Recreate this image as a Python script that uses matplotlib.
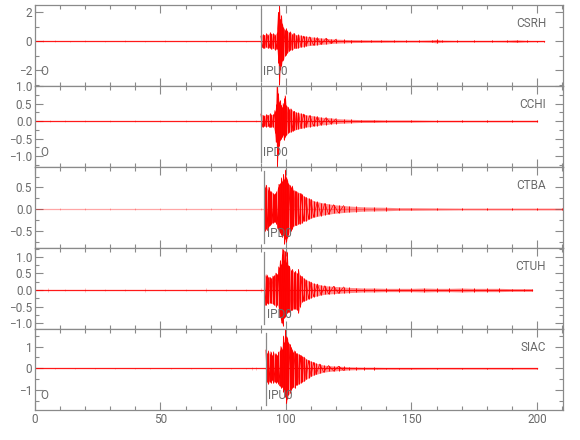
import matplotlib
matplotlib.use("Agg")
import matplotlib.pyplot as plt
from matplotlib import font_manager
from matplotlib.ticker import MultipleLocator

_installed = {f.name for f in font_manager.fontManager.ttflist}
_prefs = ['Liberation Sans Narrow', 'DejaVu Sans Condensed', 'Roboto', 'DejaVu Sans']
_family = [n for n in _prefs if n in _installed] + ['DejaVu Sans']
plt.rcParams['font.family'] = _family

# ---------------- data ----------------
stations = ["CSRH", "CCHI", "CTBA", "CTUH", "SIAC"]
onsets = [90.0, 90.0, 91.4, 91.4, 92.0]
pick_labels = ["IPU0", "IPD0", "IPD0", "IPD0", "IPU0"]
show_O = [True, True, False, False, True]
trace_end = [203, 200, 210.4, 198, 200]

# CSRH
csrh_pre_t = [0, 3, 8, 14, 20, 28, 36, 44, 52, 60, 68, 76, 84, 89.5]
csrh_pre_a = [0.05, 0.06, 0.05, 0.04, 0.05, 0.04, 0.05, 0.04, 0.05, 0.04, 0.04, 0.05, 0.04, 0.04]
csrh_t = [90, 90.7, 91.4, 92.1, 92.8, 93.5, 94.2, 94.9, 95.6, 96.3,
          97.0, 97.4, 97.8, 98.2, 98.6, 99.0, 99.5, 100.0, 100.6, 101.2,
          101.8, 102.5, 103.2, 104, 105, 106, 107, 108, 109.5, 111,
          112.5, 114, 116, 118, 120, 123, 126, 130, 134, 138,
          143, 148, 153, 158, 160, 162, 168, 175, 182, 188,
          192, 196, 200, 203]
csrh_hi = [0.35, 0.5, 0.4, 0.55, 0.45, 0.6, 0.5, 0.55, 0.45, 0.6,
           2.0, 2.5, 1.5, 1.8, 1.2, 1.0, 0.8, 0.9, 0.7, 0.6,
           0.65, 0.5, 0.55, 0.45, 0.45, 0.4, 0.35, 0.35, 0.3, 0.28,
           0.25, 0.22, 0.2, 0.16, 0.14, 0.12, 0.1, 0.09, 0.08, 0.08,
           0.07, 0.06, 0.06, 0.08, 0.12, 0.07, 0.05, 0.05, 0.05, 0.06,
           0.09, 0.05, 0.04, 0.03]
csrh_lo = [-0.3, -0.45, -0.5, -0.4, -0.5, -0.45, -0.55, -0.5, -0.6, -0.55,
           -1.5, -3.0, -2.0, -1.7, -1.4, -1.3, -1.0, -0.95, -0.8, -0.7,
           -0.6, -0.6, -0.5, -0.5, -0.45, -0.4, -0.38, -0.33, -0.3, -0.28,
           -0.25, -0.22, -0.2, -0.16, -0.14, -0.12, -0.1, -0.09, -0.08, -0.08,
           -0.07, -0.06, -0.06, -0.08, -0.12, -0.07, -0.05, -0.05, -0.05, -0.06,
           -0.09, -0.05, -0.04, -0.03]

# CCHI
cchi_pre_t = [0, 6, 12, 20, 30, 40, 50, 60, 70, 80, 88]
cchi_pre_a = [0.02, 0.02, 0.03, 0.02, 0.02, 0.02, 0.02, 0.02, 0.02, 0.02, 0.02]
cchi_t = [90, 90.7, 91.4, 92.1, 92.8, 93.5, 94.2, 94.9,
          95.6, 96.1, 96.5, 96.9, 97.3, 97.7, 98.1, 98.5, 98.9, 99.3, 99.7,
          100.2, 100.8, 101.4, 102, 102.7, 103.4, 104.2, 105,
          106, 107, 108, 109.5, 111, 112.5, 114, 116, 118, 120,
          123, 126, 130, 135, 140,
          150, 160, 170, 180, 190, 200]
cchi_hi = [0.2, 0.18, 0.15, 0.2, 0.17, 0.22, 0.18, 0.2,
           0.3, 0.5, 1.1, 0.8, 0.55, 0.6, 0.45, 0.4, 0.5, 0.65, 0.72,
           0.45, 0.4, 0.35, 0.35, 0.3, 0.28, 0.25, 0.24,
           0.22, 0.2, 0.18, 0.16, 0.15, 0.13, 0.11, 0.1, 0.09, 0.07,
           0.06, 0.05, 0.04, 0.04, 0.03,
           0.03, 0.02, 0.02, 0.02, 0.02, 0.02]
cchi_lo = [-0.15, -0.17, -0.14, -0.16, -0.15, -0.18, -0.16, -0.17,
           -0.34, -0.6, -1.3, -0.96, -0.7, -0.55, -0.5, -0.45, -0.4, -0.53, -0.45,
           -0.4, -0.35, -0.32, -0.3, -0.28, -0.26, -0.24, -0.22,
           -0.21, -0.19, -0.17, -0.16, -0.14, -0.13, -0.11, -0.1, -0.08, -0.07,
           -0.06, -0.05, -0.04, -0.04, -0.03,
           -0.03, -0.02, -0.02, -0.02, -0.02, -0.02]

# CTBA
ctba_pre_t = [0, 10, 20, 30, 40, 50, 60, 70, 80, 90, 91.2]
ctba_pre_a = [0.015, 0.015, 0.015, 0.015, 0.015, 0.015, 0.015, 0.015, 0.015, 0.015, 0.015]
ctba_t = [91.4, 91.8, 92.2, 92.7, 93.2, 93.7, 94.2, 94.7, 95.2, 95.7,
          96.2, 96.7, 97.2, 97.7, 98.2, 98.6, 99.0, 99.4, 99.8, 100.2,
          100.6, 101.0, 101.5, 102.0, 102.5, 103.0, 103.6, 104.2, 104.8, 105.5,
          106.2, 107, 108, 109, 110, 111, 112.5, 114, 115.5, 117,
          119, 121, 123, 125, 128, 131, 135, 140, 145, 150,
          160, 170, 180, 190, 200, 210]
ctba_hi = [0.6, 0.5, 0.55, 0.45, 0.5, 0.42, 0.4, 0.38, 0.34, 0.36,
           0.4, 0.5, 0.57, 0.6, 0.72, 0.65, 0.8, 0.7, 0.9, 0.75,
           0.68, 0.6, 0.55, 0.5, 0.53, 0.45, 0.42, 0.42, 0.38, 0.38,
           0.35, 0.3, 0.27, 0.25, 0.22, 0.19, 0.17, 0.15, 0.13, 0.12,
           0.1, 0.09, 0.08, 0.07, 0.06, 0.05, 0.045, 0.04, 0.03, 0.03,
           0.025, 0.02, 0.02, 0.02, 0.02, 0.02]
ctba_lo = [-0.4, -0.5, -0.45, -0.5, -0.4, -0.38, -0.34, -0.32, -0.3, -0.3,
           -0.35, -0.45, -0.5, -0.55, -0.6, -0.65, -0.6, -0.8, -0.7, -0.75,
           -0.68, -0.6, -0.5, -0.5, -0.45, -0.4, -0.38, -0.38, -0.35, -0.34,
           -0.32, -0.28, -0.27, -0.24, -0.21, -0.19, -0.17, -0.15, -0.13, -0.12,
           -0.1, -0.09, -0.08, -0.07, -0.06, -0.05, -0.045, -0.04, -0.03, -0.03,
           -0.025, -0.02, -0.02, -0.02, -0.02, -0.02]

# CTUH
ctuh_pre_t = [0, 5, 12, 20, 28, 36, 44, 52, 60, 68, 76, 84, 90, 91.2]
ctuh_pre_a = [0.04, 0.05, 0.04, 0.05, 0.04, 0.04, 0.05, 0.04, 0.04, 0.05, 0.04, 0.04, 0.05, 0.04]
ctuh_t = [91.4, 91.9, 92.4, 93.0, 93.6, 94.2, 94.8, 95.4, 96.0, 96.6,
          97.1, 97.5, 97.9, 98.3, 98.7, 99.1, 99.5, 99.9, 100.4, 100.9,
          101.4, 102, 102.6, 103.2, 103.8, 104.4, 105, 105.6, 106.3, 107,
          108, 109, 110, 111, 112.5, 114, 115.5, 117, 119, 121,
          123, 125, 128, 131, 135, 140, 145, 150, 155, 160,
          165, 170, 175, 180, 185, 190, 195, 198]
ctuh_hi = [0.5, 0.42, 0.46, 0.4, 0.38, 0.36, 0.42, 0.45, 0.51, 0.48,
           0.7, 0.92, 0.8, 1.1, 1.23, 0.9, 1.18, 0.85, 1.15, 0.75,
           0.72, 0.6, 0.62, 0.55, 0.56, 0.5, 0.62, 0.45, 0.41, 0.36,
           0.31, 0.28, 0.24, 0.2, 0.18, 0.15, 0.13, 0.12, 0.11, 0.1,
           0.09, 0.08, 0.07, 0.06, 0.06, 0.05, 0.05, 0.05, 0.06, 0.05,
           0.05, 0.06, 0.05, 0.05, 0.05, 0.04, 0.04, 0.04]
ctuh_lo = [-0.45, -0.46, -0.4, -0.41, -0.38, -0.4, -0.42, -0.45, -0.51, -0.45,
           -0.6, -0.82, -0.9, -1.0, -1.08, -0.85, -0.82, -0.75, -0.7, -0.67,
           -0.67, -0.62, -0.6, -0.56, -0.56, -0.6, -0.7, -0.5, -0.36, -0.34,
           -0.31, -0.27, -0.23, -0.2, -0.18, -0.15, -0.13, -0.12, -0.11, -0.1,
           -0.09, -0.08, -0.07, -0.06, -0.06, -0.05, -0.05, -0.05, -0.06, -0.05,
           -0.05, -0.06, -0.05, -0.05, -0.05, -0.04, -0.04, -0.04]

# SIAC
siac_pre_t = [0, 8, 16, 24, 32, 40, 46, 54, 62, 70, 78, 84, 86.5, 88, 91.8]
siac_pre_a = [0.03, 0.03, 0.03, 0.03, 0.03, 0.03, 0.04, 0.03, 0.03, 0.03, 0.03, 0.03, 0.07, 0.05, 0.03]
siac_t = [92.0, 92.5, 93.0, 93.5, 94.0, 94.5, 95.0, 95.5, 96.0, 96.5,
          97.0, 97.5, 98.0, 98.5, 99.0, 99.4, 99.8, 100.2, 100.6, 101.0,
          101.5, 102.0, 102.5, 103.0, 103.5, 104.0, 104.6, 105.2, 105.8, 106.5,
          107.2, 108, 109, 110, 111, 112, 113.5, 115, 117, 119,
          121, 123, 125, 128, 131, 135, 140, 145, 150, 160,
          170, 180, 190, 200]
siac_hi = [0.84, 0.7, 0.8, 0.65, 0.76, 0.6, 0.76, 0.65, 0.68, 0.6,
           0.75, 0.85, 1.0, 0.9, 1.48, 1.2, 1.8, 1.5, 1.4, 1.2,
           1.1, 1.0, 0.85, 0.76, 0.8, 0.7, 0.68, 0.65, 0.6, 0.55,
           0.52, 0.45, 0.37, 0.33, 0.28, 0.24, 0.2, 0.15, 0.13, 0.11,
           0.1, 0.09, 0.07, 0.06, 0.05, 0.05, 0.04, 0.04, 0.04, 0.03,
           0.03, 0.03, 0.03, 0.03]
siac_lo = [-0.75, -0.6, -0.7, -0.6, -0.65, -0.55, -0.67, -0.6, -0.67, -0.6,
           -0.7, -0.8, -0.9, -0.85, -1.06, -1.0, -1.3, -1.6, -1.38, -1.2,
           -1.14, -1.0, -0.9, -0.85, -0.9, -0.75, -0.75, -0.7, -0.65, -0.6,
           -0.59, -0.5, -0.43, -0.36, -0.3, -0.27, -0.22, -0.17, -0.14, -0.12,
           -0.1, -0.09, -0.07, -0.06, -0.05, -0.05, -0.04, -0.04, -0.04, -0.03,
           -0.03, -0.03, -0.03, -0.03]

traces = [
    (csrh_pre_t, csrh_pre_a, csrh_t, csrh_hi, csrh_lo),
    (cchi_pre_t, cchi_pre_a, cchi_t, cchi_hi, cchi_lo),
    (ctba_pre_t, ctba_pre_a, ctba_t, ctba_hi, ctba_lo),
    (ctuh_pre_t, ctuh_pre_a, ctuh_t, ctuh_hi, ctuh_lo),
    (siac_pre_t, siac_pre_a, siac_t, siac_hi, siac_lo),
]

y_limits = [(-3.1, 2.5), (-1.31, 1.0), (-0.9, 0.97), (-1.18, 1.27), (-1.9, 1.8)]
y_major = [2, 0.5, 0.5, 0.5, 1]
y_minor = [1, 0.25, 0.25, 0.25, 0.5]
y_fmt = ["{:.0f}", "{:.1f}", "{:.1f}", "{:.1f}", "{:.0f}"]
x_ticks = [0, 50, 100, 150, 200]

# ---------------- layout ----------------
W, H = 580, 440
fig = plt.figure(figsize=(W / 100, H / 100), dpi=100)
left_px, right_px = 35, 563
bounds_px = [5, 86, 167, 248, 329, 410]
grey = "#8a8a8a"
txt = "#6a6a6a"
fs = 8.5

for i, st in enumerate(stations):
    top, bot = bounds_px[i], bounds_px[i + 1]
    ax = fig.add_axes([left_px / W, 1 - bot / H, (right_px - left_px) / W, (bot - top) / H])
    pre_t, pre_a, t, hi, lo = traces[i]
    assert len(t) == len(hi) == len(lo) and len(pre_t) == len(pre_a)
    # baseline (quiet part of the record)
    ax.plot([0, trace_end[i]], [0, 0], color="red", lw=0.9, alpha=0.9 if i != 2 else 0.35)
    # small pre-event noise bursts
    ax.vlines(pre_t, [-v for v in pre_a], pre_a, color="red", lw=0.5, alpha=0.35)
    # envelope shading of the event
    ax.fill_between(t, lo, hi, color="red", alpha=0.45, lw=0)
    # vertical strokes
    ax.vlines(t, lo, hi, color="red", lw=0.7)
    # zigzag through alternating peaks in the dense part of the event
    n_dense = sum(1 for v in t if v <= onsets[i] + 32)
    zz = [hi[k] if k % 2 == 0 else lo[k] for k in range(n_dense)]
    ax.plot(t[:n_dense], zz, color="red", lw=0.5)

    ax.set_xlim(0, 210.4)
    ax.set_ylim(*y_limits[i])
    # pick line
    ax.axvline(onsets[i], ymin=0.06, ymax=0.95, color=grey, lw=0.9)
    ax.text(onsets[i] + 1.0, 0.1, pick_labels[i], transform=ax.get_xaxis_transform(),
            color=txt, fontsize=fs, ha="left", va="bottom")
    if show_O[i]:
        ax.text(0.01, 0.1, "O", transform=ax.transAxes, color=txt, fontsize=fs,
                ha="left", va="bottom")
    ax.text(0.968, 0.77, st, transform=ax.transAxes, color=txt, fontsize=fs,
            ha="right", va="center")

    ax.xaxis.set_major_locator(MultipleLocator(50))
    ax.xaxis.set_minor_locator(MultipleLocator(10))
    ax.yaxis.set_major_locator(MultipleLocator(y_major[i]))
    ax.yaxis.set_minor_locator(MultipleLocator(y_minor[i]))
    f = y_fmt[i]
    ax.yaxis.set_major_formatter(plt.FuncFormatter(lambda v, p, f=f: f.format(v).replace("-", "\u2212")))
    ax.tick_params(which="both", direction="in", top=True, right=True, color=grey,
                   labelcolor=txt, labelsize=fs, pad=2)
    ax.tick_params(which="major", length=6, width=0.8)
    ax.tick_params(which="minor", length=3, width=0.8)
    if i < len(stations) - 1:
        ax.tick_params(axis="x", labelbottom=False)
    else:
        ax.set_xticks(x_ticks)
    for s in ax.spines.values():
        s.set_color(grey)
        s.set_linewidth(0.9)

fig.savefig("out.png", dpi=100)
